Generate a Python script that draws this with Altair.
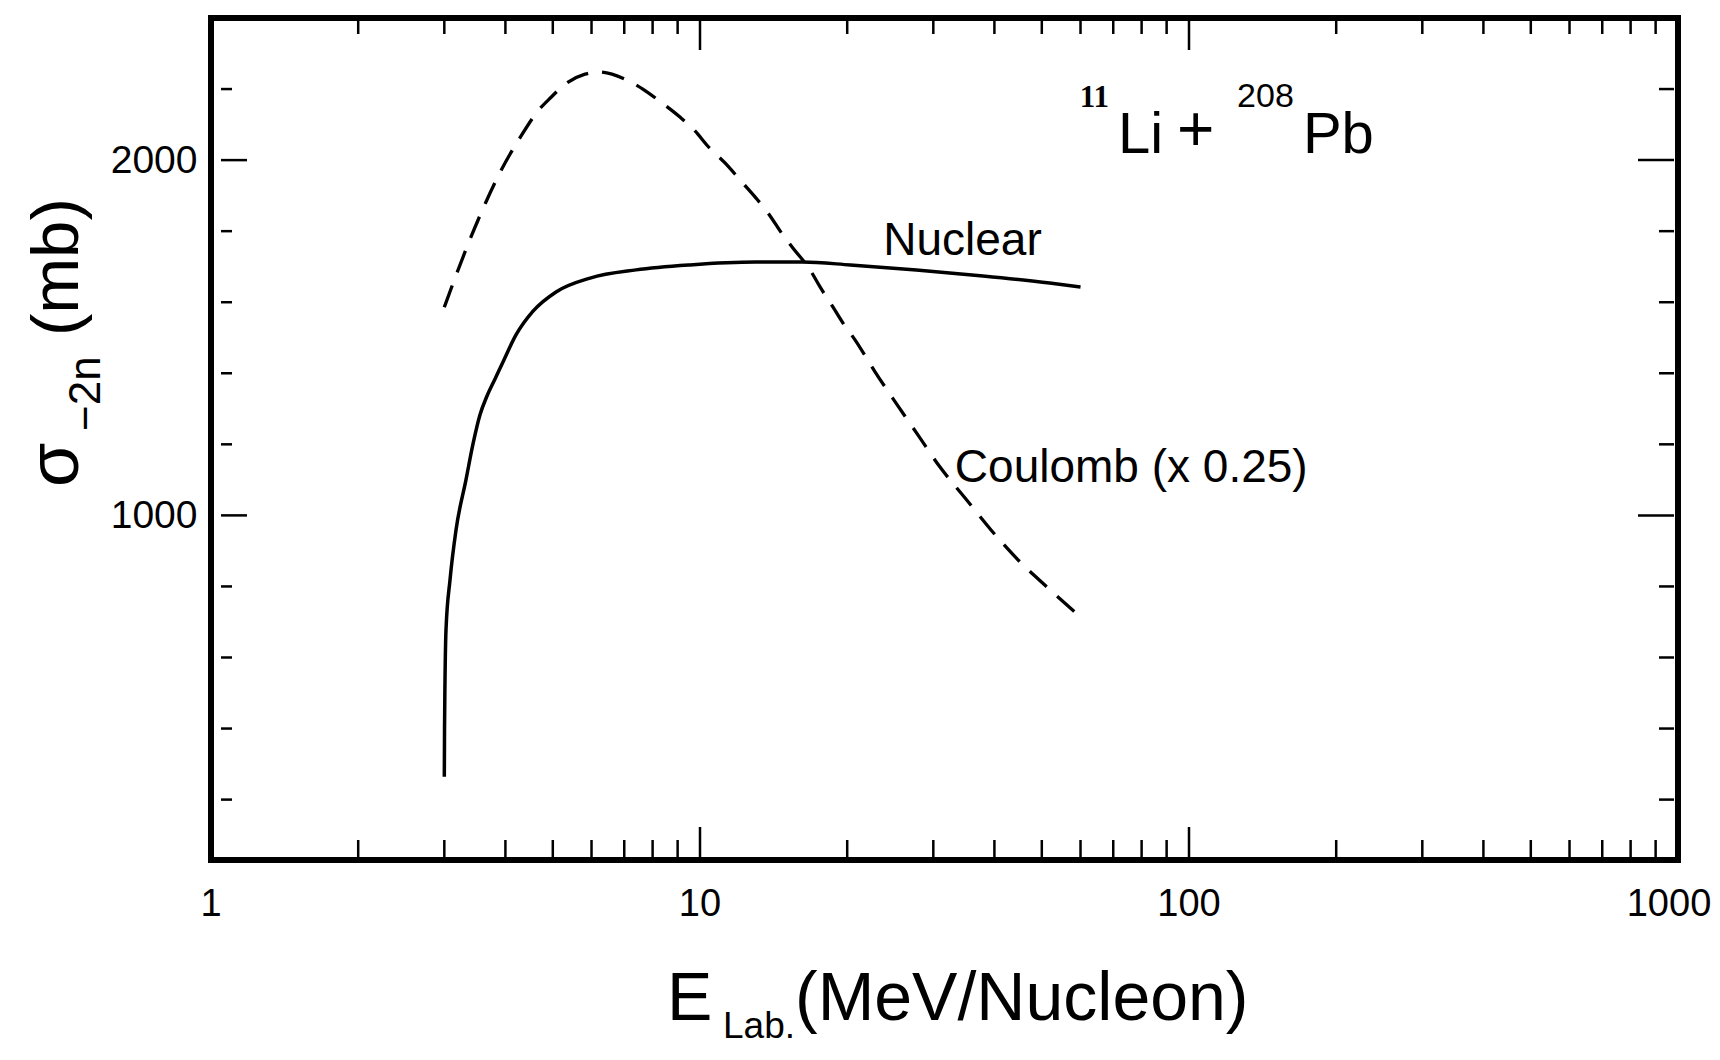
import altair as alt
import pandas as pd

# ---------------- data ----------------
nuc_E = [3.0, 3.003, 3.010, 3.024, 3.082, 3.170, 3.322, 3.434, 3.549, 3.668, 3.809,
         3.955, 4.204, 4.556, 5.077, 5.96, 7.40, 9.54, 13.0, 16.2, 20.3, 27.7,
         37.9, 51.9, 60.0]
nuc_S = [264, 397, 537, 678, 819, 959, 1100, 1201, 1283, 1336, 1384,
         1432, 1508, 1575, 1629, 1668, 1691, 1705, 1713, 1713, 1705, 1691,
         1674, 1654, 1643]

coul_E = [3.0, 3.155, 3.40, 3.65, 3.94, 4.28, 4.66, 4.96, 5.30, 5.82, 6.19, 7.02,
          7.64, 8.32, 9.10, 9.77, 10.38, 11.25, 12.13, 13.02, 13.78, 14.78, 15.50,
          16.79, 17.60, 18.71, 19.61, 20.75, 22.80, 25.17, 27.92, 30.96, 34.84,
          39.37, 44.70, 51.47, 60.0]
coul_S = [1586, 1668, 1783, 1882, 1977, 2062, 2138, 2177, 2214, 2242, 2248, 2228,
          2200, 2163, 2121, 2082, 2039, 1992, 1941, 1893, 1851, 1789, 1752,
          1691, 1643, 1586, 1541, 1494, 1404, 1316, 1226, 1136, 1049,
          959, 875, 796, 714]

x_labels = [1, 10, 100]
x_last_label = [1000]
x_minor = [2, 3, 4, 5, 6, 7, 8, 9, 20, 30, 40, 50, 60, 70, 80, 90,
           200, 300, 400, 500, 600, 700, 800, 900]
x_major = [10, 100]
y_labels = [1000, 2000]
y_minor = [200, 400, 600, 800, 1200, 1400, 1600, 1800, 2200]
y_major = [1000, 2000]

curve_labels = ["Nuclear", "Coulomb (x 0.25)"]
curve_label_E = [23.7, 33.2]
curve_label_S = [1733, 1094]

title_main = ["Li", "Pb"]
title_main_E = [71.6, 171.0]
title_main_S = [2020, 2020]
title_plus = ["+"]
title_plus_E = [94.5]
title_plus_S = [2027]
title_sup = ["11", "208"]
title_sup_E = [59.8, 125.4]
title_sup_S = [2149, 2149]

# ---------------- layout ----------------
W, H = 1467, 842
SANS = "Liberation Sans, Arial, sans-serif"
SERIF = "Liberation Serif, serif"

xs = alt.Scale(type="log", domain=[1, 1000], nice=False)
ys = alt.Scale(domain=[30, 2400], nice=False, zero=False)

nuc = pd.DataFrame({"E": nuc_E, "S": nuc_S})
coul = pd.DataFrame({"E": coul_E, "S": coul_S})

base_x = alt.X("E:Q", scale=xs, axis=None)
base_y = alt.Y("S:Q", scale=ys,
               axis=alt.Axis(values=y_labels, format="d", title=None, ticks=False,
                             domain=False, grid=False, labelFont=SANS,
                             labelFontSize=39, labelPadding=14, labelColor="black"))

nuclear = alt.Chart(nuc).mark_line(color="black", strokeWidth=3.5,
                                   interpolate="monotone").encode(x=base_x, y=base_y)
coulomb = alt.Chart(coul).mark_line(color="black", strokeWidth=3.3,
                                    strokeDash=[23, 14],
                                    interpolate="monotone").encode(
    x=alt.X("E:Q", scale=xs), y=alt.Y("S:Q", scale=ys))

# inward ticks
def xticks(vals, y0, y1):
    return alt.Chart(pd.DataFrame({"E": vals})).mark_rule(
        color="black", strokeWidth=2.5).encode(
        x=alt.X("E:Q", scale=xs), y=alt.value(y0), y2=alt.value(y1))

def yticks(vals, x0, x1):
    return alt.Chart(pd.DataFrame({"S": vals})).mark_rule(
        color="black", strokeWidth=2.5).encode(
        y=alt.Y("S:Q", scale=ys), x=alt.value(x0), x2=alt.value(x1))

ticks = [
    xticks(x_minor, H, H - 20), xticks(x_major, H, H - 33),
    xticks(x_minor, 0, 16), xticks(x_major, 0, 32),
    yticks(y_minor, 10, 21), yticks(y_major, 10, 36),
    yticks(y_minor, W - 4, W - 19), yticks(y_major, W - 4, W - 40),
]

# x tick labels (through the x scale)
xlab = alt.Chart(pd.DataFrame({"E": x_labels})).mark_text(
    font=SANS, fontSize=38, align="center", baseline="alphabetic", color="black"
).encode(x=alt.X("E:Q", scale=xs), y=alt.value(H + 56), text=alt.Text("E:Q", format="d"))
xlab_last = alt.Chart(pd.DataFrame({"E": x_last_label})).mark_text(
    font=SANS, fontSize=38, align="center", baseline="alphabetic", color="black",
    dx=-9
).encode(x=alt.X("E:Q", scale=xs), y=alt.value(H + 56), text=alt.Text("E:Q", format="d"))

# curve labels
lab = alt.Chart(pd.DataFrame({"E": curve_label_E, "S": curve_label_S,
                              "t": curve_labels})).mark_text(
    font=SANS, fontSize=46, align="left", baseline="alphabetic", color="black"
).encode(x=alt.X("E:Q", scale=xs), y=alt.Y("S:Q", scale=ys), text="t:N")

tmain = alt.Chart(pd.DataFrame({"E": title_main_E, "S": title_main_S,
                                "t": title_main})).mark_text(
    font=SANS, fontSize=58, align="left", baseline="alphabetic", color="black"
).encode(x=alt.X("E:Q", scale=xs), y=alt.Y("S:Q", scale=ys), text="t:N")

tplus = alt.Chart(pd.DataFrame({"E": title_plus_E, "S": title_plus_S,
                                "t": title_plus})).mark_text(
    font=SANS, fontSize=64, align="left", baseline="alphabetic", color="black"
).encode(x=alt.X("E:Q", scale=xs), y=alt.Y("S:Q", scale=ys), text="t:N")

tsup1 = alt.Chart(pd.DataFrame({"E": title_sup_E[:1], "S": title_sup_S[:1],
                                "t": title_sup[:1]})).mark_text(
    font=SERIF, fontSize=31, fontWeight="bold", align="left",
    baseline="alphabetic", color="black"
).encode(x=alt.X("E:Q", scale=xs), y=alt.Y("S:Q", scale=ys), text="t:N")
tsup2 = alt.Chart(pd.DataFrame({"E": title_sup_E[1:], "S": title_sup_S[1:],
                                "t": title_sup[1:]})).mark_text(
    font=SANS, fontSize=34, align="left", baseline="alphabetic", color="black"
).encode(x=alt.X("E:Q", scale=xs), y=alt.Y("S:Q", scale=ys), text="t:N")

# axis titles composed of pieces (sub/superscripts)
def piece(txt, x, y, size, font=SANS, angle=0):
    return alt.Chart(pd.DataFrame({"t": [txt]})).mark_text(
        font=font, fontSize=size, align="left", baseline="alphabetic",
        color="black", angle=angle
    ).encode(text="t:N", x=alt.value(x), y=alt.value(y))

titles = [
    piece("E", 456, 1002, 68),
    piece("Lab.", 512, 1020, 37),
    piece("(MeV/Nucleon)", 584, 1002, 68),
    piece("\u03c3", -133, 469, 72, angle=270),
    piece("\u22122n", -111, 413, 44, angle=270),
    piece("(mb)", -133, 318, 67, angle=270),
]

chart = alt.layer(
    nuclear, coulomb, *ticks, xlab, xlab_last, lab, tmain, tplus, tsup1, tsup2,
    *titles
).properties(
    width=W, height=H,
    autosize=alt.AutoSizeParams(type="none"),
    padding={"left": 203, "top": 10, "right": 34, "bottom": 188},
    background="white",
).configure_view(stroke="black", strokeWidth=6, fill="white")

chart.save("out.html", embed_options={"renderer": "svg", "actions": False})
